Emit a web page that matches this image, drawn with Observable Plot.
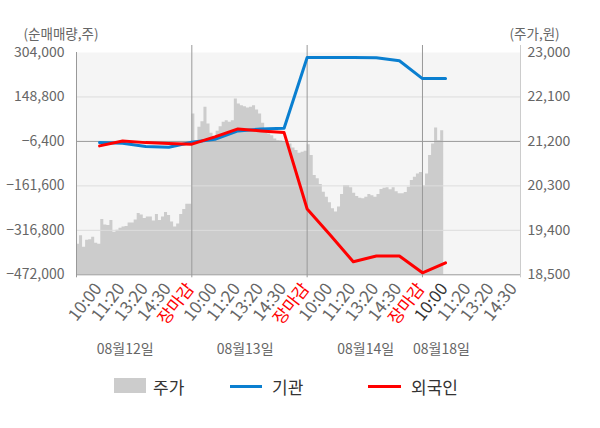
<!DOCTYPE html>
<html><head><meta charset="utf-8">
<script src="https://cdn.jsdelivr.net/npm/d3@7"></script>
<script src="https://cdn.jsdelivr.net/npm/@observablehq/plot@0.6"></script>
<style>
body{margin:0;background:#fff;font-family:"Noto Sans CJK KR","Noto Sans",sans-serif;}
#wrap{position:relative;width:600px;height:428px;overflow:hidden;}
.lg{position:absolute;}
.lt{position:absolute;font-size:17px;color:#333;line-height:20px;top:377px;}
</style></head><body>
<div id="wrap"><div id="chart"></div>
<div class="lg" style="left:114px;top:378px;width:32px;height:15px;background:#cccccc"></div>
<div class="lt" style="left:153px">주가</div>
<div class="lg" style="left:230px;top:385px;width:32px;height:3px;background:#0a7fd0"></div>
<div class="lt" style="left:272px">기관</div>
<div class="lg" style="left:368px;top:385px;width:33px;height:3px;background:#ff0000"></div>
<div class="lt" style="left:411px">외국인</div>
</div>
<script>
// categories / labels
const dayLabels = ["08월12일", "08월13일", "08월14일", "08월18일"];
const dayLabelPos = [2.11, 7.31, 12.54, 15.82];
const timeLabels = ["10:00", "11:20", "13:20", "14:30", "장마감"];
const daysTicks = [5, 5, 5, 4];
// net buying at each time tick (10:00 .. 장마감 per day, day4 only 10:00)
const institution = [-10600, -13000, -24000, -27000, -9000, 1300, 30300, 37000, 39700, 286500, 286500, 286500, 286000, 275000, 213000, 213000];
const foreign = [-22000, -5000, -10600, -14000, -16000, 9300, 37300, 30300, 24400, -242400, -332800, -426500, -406600, -406600, -465000, -430000];
// stock price, sampled evenly through each session
const priceDay1 = [19120, 19290, 19060, 19200, 19210, 19260, 19140, 19120, 19620, 19510, 19500, 19600, 19360, 19400, 19440, 19470, 19480, 19550, 19550, 19610, 19740, 19710, 19640, 19670, 19670, 19590, 19720, 19600, 19670, 19760, 19700, 19570, 19470, 19530, 19720, 19820, 19930, 19930];
const priceDay2 = [21755, 21216, 21486, 21600, 21890, 21553, 21364, 21297, 21405, 21499, 21587, 21620, 21587, 21620, 22058, 21957, 21923, 21903, 21876, 21890, 21923, 21836, 21755, 21566, 21418, 21351, 21317, 21250, 21216, 21210, 21190, 21176, 21149, 21068, 21014, 20960, 20980, 21001];
const priceDay3 = [21135, 20913, 20509, 20442, 20327, 20172, 20071, 19957, 19836, 19770, 19870, 20125, 20307, 20307, 20260, 20152, 20085, 20051, 20038, 20071, 20125, 20098, 20071, 20125, 20226, 20253, 20260, 20220, 20260, 20179, 20139, 20139, 20166, 20273, 20408, 20476, 20543, 20570];
const priceDay4 = [20300, 20543, 20913, 21149, 21470, 21216, 21418, 21432];
const leftTicks = [304000, 148800, -6400, -161600, -316800, -472000];
const priceTicks = [23000, 22100, 21200, 20300, 19400, 18500];

const Y0 = -472000, Y1 = 304000, P0 = 18500, P1 = 23000;
const toLeft = p => Y0 + (p - P0) * (Y1 - Y0) / (P1 - P0);
const fromLeft = v => P0 + (v - Y0) * (P1 - P0) / (Y1 - Y0);
const XMAX = 19.25;
const perDay = 38;

const priceData = [priceDay1, priceDay2, priceDay3, priceDay4].flatMap((arr, d) =>
  arr.map((p, k) => ({x: d * 5 + k * 5 / perDay, p})));
const lineData = institution.map((v, i) => ({x: i + 1, inst: v, fgn: foreign[i]}));
const tickData = daysTicks.flatMap((n, d) => d3.range(n).map(j => ({
  x: d * 5 + j + 1,
  label: timeLabels[j],
  color: timeLabels[j] === "장마감" ? "#ff0000" : (d === 3 && j === 0 ? "#333333" : "#666666")
})));
const fmt = d3.format(",");

const chart = Plot.plot({
  width: 600, height: 365,
  marginLeft: 76, marginRight: 80, marginTop: 52, marginBottom: 90.7,
  x: {domain: [0, XMAX], axis: null},
  y: {domain: [Y0, Y1], axis: null},
  style: {fontFamily: "'Noto Sans CJK KR', 'Noto Sans', sans-serif", background: "transparent", overflow: "visible"},
  marks: [
    Plot.frame({fill: "#f5f5f5", stroke: null}),
    Plot.areaY(priceData, {x: "x", y1: Y0, y2: d => toLeft(d.p), fill: "#cccccc", curve: "step-after"}),
    Plot.ruleY([148800, -161600, -316800], {stroke: "#dddddd", strokeWidth: 1}),
    Plot.ruleY([-6400], {stroke: "#999999", strokeWidth: 1}),
    Plot.ruleX([5, 10, 15], {stroke: "#999999", insetTop: -7, insetBottom: -3}),
    Plot.ruleX([0], {stroke: "#999999", insetBottom: -3}),
    Plot.ruleX([XMAX], {stroke: "#cccccc", insetTop: -7, insetBottom: -3}),
    Plot.ruleY([Y0], {stroke: "#999999"}),
    Plot.line(lineData, {x: "x", y: "inst", stroke: "#0a7fd0", strokeWidth: 3}),
    Plot.line(lineData, {x: "x", y: "fgn", stroke: "#ff0000", strokeWidth: 3}),
    Plot.axisY(leftTicks, {anchor: "left", tickSize: 0, tickPadding: 12, tickFormat: fmt, fontSize: 14, fill: "#666666"}),
    Plot.axisY(priceTicks.map(toLeft), {anchor: "right", tickSize: 0, tickPadding: 7, tickFormat: v => fmt(Math.round(fromLeft(v) / 100) * 100), fontSize: 14, fill: "#666666"}),
    Plot.text(["(순매매량,주)"], {frameAnchor: "top-left", text: d => d, dx: -53, dy: -23, textAnchor: "start", fontSize: 13.5, fill: "#666666"}),
    Plot.text(["(주가,원)"], {frameAnchor: "top-right", text: d => d, dx: -11, dy: -23, textAnchor: "start", fontSize: 13.5, fill: "#666666"}),
    Plot.text(tickData, {x: "x", frameAnchor: "bottom", text: "label", fill: "color", rotate: -52, textAnchor: "end", dx: 3, dy: 14, fontSize: 17}),
    Plot.text(dayLabels, {x: dayLabelPos, frameAnchor: "bottom", text: d => d, dy: 79, fontSize: 14, fill: "#666666"})
  ]
});
document.getElementById("chart").appendChild(chart);
</script>
</body></html>
